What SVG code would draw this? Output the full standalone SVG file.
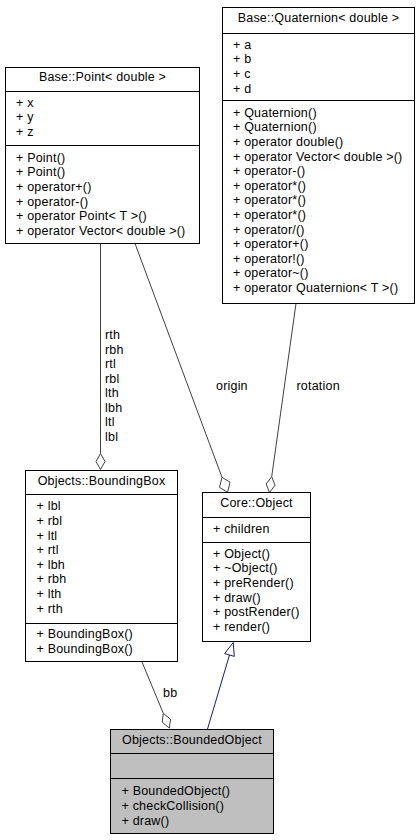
<svg xmlns="http://www.w3.org/2000/svg" width="420" height="840" viewBox="0 0 420 840">
<style>
text{font-family:"Liberation Sans",Arial,sans-serif;font-size:12.5px;letter-spacing:0.2px;fill:#000}
.t{text-anchor:middle}
.box{fill:#fff;stroke:#000;stroke-width:1}
.cur{fill:#bfbfbf;stroke:#000;stroke-width:1}
.sep{stroke:#000;stroke-width:1}
.e{fill:none;stroke:#404040;stroke-width:1}
.d{fill:#fff;stroke:#404040;stroke-width:1}
.inh{fill:none;stroke:#191970;stroke-width:1}
.tri{fill:#fff;stroke:#191970;stroke-width:1}
</style>
<rect width="420" height="840" fill="#fff"/>
<g id="edges">
<line class="e" x1="100.5" y1="243.5" x2="100.5" y2="453.5"/>
<polygon class="d" points="100.5,453.5 105,461.5 100.5,469.5 96,461.5"/>
<text x="105" y="339">rth</text>
<text x="105" y="353.5">rbh</text>
<text x="105" y="368">rtl</text>
<text x="105" y="382.5">rbl</text>
<text x="105" y="397">lth</text>
<text x="105" y="411.5">lbh</text>
<text x="105" y="426">ltl</text>
<text x="105" y="440.5">lbl</text>
<line class="e" x1="135" y1="243.5" x2="222" y2="477.3"/>
<polygon class="d" points="222,477.3 230,482.2 227.6,492.3 219.5,487.4"/>
<text x="216" y="390">origin</text>
<line class="e" x1="296" y1="303.5" x2="271.7" y2="476.7"/>
<polygon class="d" points="271.7,476.7 275,485.2 269.5,492.5 266.2,484"/>
<text x="296.5" y="390">rotation</text>
<line class="e" x1="141.8" y1="661.5" x2="163.3" y2="713.3"/>
<polygon class="d" points="163.3,713.3 170.5,719.2 169.4,728.1 162.2,722.2"/>
<text x="163" y="697">bb</text>
<line class="inh" x1="207.5" y1="729" x2="229.5" y2="655"/>
<polygon class="tri" points="233.2,642.5 234.3,656.4 224.7,653.6"/>
</g>
<g id="point">
<rect class="box" x="5.5" y="67.5" width="194" height="176"/>
<line class="sep" x1="5.5" y1="91.5" x2="199.5" y2="91.5"/>
<line class="sep" x1="5.5" y1="145.5" x2="199.5" y2="145.5"/>
<text class="t" x="102.5" y="81">Base::Point&lt; double &gt;</text>
<text x="16" y="106.7">+ x</text>
<text x="16" y="121.3">+ y</text>
<text x="16" y="135.9">+ z</text>
<text x="16" y="161.7">+ Point()</text>
<text x="16" y="176.3">+ Point()</text>
<text x="16" y="190.9">+ operator+()</text>
<text x="16" y="205.5">+ operator-()</text>
<text x="16" y="220.1">+ operator Point&lt; T &gt;()</text>
<text x="16" y="234.7">+ operator Vector&lt; double &gt;()</text>
</g>
<g id="quaternion">
<rect class="box" x="222.5" y="7.5" width="192" height="296"/>
<line class="sep" x1="222.5" y1="33.5" x2="414.5" y2="33.5"/>
<line class="sep" x1="222.5" y1="100.5" x2="414.5" y2="100.5"/>
<text class="t" x="318.5" y="21.7">Base::Quaternion&lt; double &gt;</text>
<text x="233" y="48.7">+ a</text>
<text x="233" y="63.3">+ b</text>
<text x="233" y="77.9">+ c</text>
<text x="233" y="92.5">+ d</text>
<text x="233" y="116.7">+ Quaternion()</text>
<text x="233" y="131.3">+ Quaternion()</text>
<text x="233" y="145.9">+ operator double()</text>
<text x="233" y="160.5">+ operator Vector&lt; double &gt;()</text>
<text x="233" y="175.1">+ operator-()</text>
<text x="233" y="189.7">+ operator*()</text>
<text x="233" y="204.3">+ operator*()</text>
<text x="233" y="218.9">+ operator*()</text>
<text x="233" y="233.5">+ operator/()</text>
<text x="233" y="248.1">+ operator+()</text>
<text x="233" y="262.7">+ operator!()</text>
<text x="233" y="277.3">+ operator~()</text>
<text x="233" y="291.9">+ operator Quaternion&lt; T &gt;()</text>
</g>
<g id="boundingbox">
<rect class="box" x="25.5" y="470.5" width="152" height="191"/>
<line class="sep" x1="25.5" y1="494.5" x2="177.5" y2="494.5"/>
<line class="sep" x1="25.5" y1="623.5" x2="177.5" y2="623.5"/>
<text class="t" x="101.5" y="485.4">Objects::BoundingBox</text>
<text x="36.5" y="510.4">+ lbl</text>
<text x="36.5" y="525">+ rbl</text>
<text x="36.5" y="539.6">+ ltl</text>
<text x="36.5" y="554.2">+ rtl</text>
<text x="36.5" y="568.8">+ lbh</text>
<text x="36.5" y="583.4">+ rbh</text>
<text x="36.5" y="598">+ lth</text>
<text x="36.5" y="612.6">+ rth</text>
<text x="36.5" y="638.2">+ BoundingBox()</text>
<text x="36.5" y="652.8">+ BoundingBox()</text>
</g>
<g id="object">
<rect class="box" x="202.5" y="492.5" width="108" height="149"/>
<line class="sep" x1="202.5" y1="517.5" x2="310.5" y2="517.5"/>
<line class="sep" x1="202.5" y1="542.5" x2="310.5" y2="542.5"/>
<text class="t" x="256.5" y="507">Core::Object</text>
<text x="213" y="532.7">+ children</text>
<text x="213" y="557.7">+ Object()</text>
<text x="213" y="572.3">+ ~Object()</text>
<text x="213" y="586.9">+ preRender()</text>
<text x="213" y="601.5">+ draw()</text>
<text x="213" y="616.1">+ postRender()</text>
<text x="213" y="630.7">+ render()</text>
</g>
<g id="boundedobject">
<rect class="cur" x="110.5" y="729.5" width="163" height="104"/>
<line class="sep" x1="110.5" y1="753.5" x2="273.5" y2="753.5"/>
<line class="sep" x1="110.5" y1="778.5" x2="273.5" y2="778.5"/>
<text class="t" x="192" y="743.7">Objects::BoundedObject</text>
<text x="121.5" y="795.4">+ BoundedObject()</text>
<text x="121.5" y="810">+ checkCollision()</text>
<text x="121.5" y="824.6">+ draw()</text>
</g>
</svg>
